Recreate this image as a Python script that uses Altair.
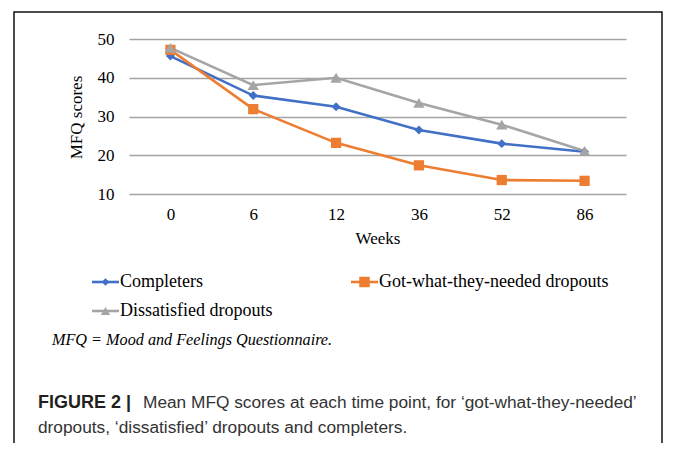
import altair as alt
import pandas as pd

weeks = ["0", "6", "12", "36", "52", "86"]
series_names = ["Completers", "Got-what-they-needed dropouts", "Dissatisfied dropouts"]
completers = [45.6, 35.4, 32.5, 26.5, 23.0, 20.9]
got_what = [47.2, 31.9, 23.2, 17.4, 13.6, 13.4]
dissatisfied = [47.7, 38.1, 40.0, 33.5, 27.9, 21.1]
colors = ["#4170C6", "#ED7D31", "#A5A5A5"]
shapes = ["diamond", "square", "triangle-up"]
y_ticks = [10, 20, 30, 40, 50]

rows = []
for name, vals in zip(series_names, [completers, got_what, dissatisfied]):
    for w, v in zip(weeks, vals):
        rows.append({"week": w, "score": v, "series": name})
df = pd.DataFrame(rows)

W, H = 497, 155
serif = "Liberation Serif"
sans = "Liberation Sans"

x_enc = alt.X("week:N", sort=weeks, scale=alt.Scale(type="point", padding=0.5),
              axis=alt.Axis(title="Weeks", labelAngle=0, labelFont=serif, labelFontSize=17,
                            labelColor="#000", labelPadding=12, domain=False, ticks=False,
                            grid=False, titleFont=serif, titleFontSize=17,
                            titleFontWeight="normal", titleColor="#000", titlePadding=8))
y_enc = alt.Y("score:Q", scale=alt.Scale(domain=[10, 50], nice=False, zero=False),
              axis=alt.Axis(title="MFQ scores", values=y_ticks, labelFont=serif, labelFontSize=17,
                            labelColor="#000", labelPadding=15, domain=False, ticks=False,
                            grid=True, gridColor="#a3a3a3", gridWidth=1.6,
                            titleFont=serif, titleFontSize=17, titleFontWeight="normal",
                            titleColor="#000", titleX=-44, titleY=78))
color_enc = alt.Color("series:N", sort=series_names,
                      scale=alt.Scale(domain=series_names, range=colors), legend=None)

base = alt.Chart(df)
lines = base.mark_line(strokeWidth=2.6).encode(x=x_enc, y=y_enc, color=color_enc,
                                                 order=alt.Order("series:N"))
shape_scale = alt.Scale(domain=series_names, range=shapes)
size_scale = alt.Scale(domain=series_names, range=[80, 130, 110])
points = base.mark_point(filled=True, opacity=1).encode(
    x=x_enc, y=y_enc, color=color_enc,
    shape=alt.Shape("series:N", scale=shape_scale, legend=None),
    size=alt.Size("series:N", scale=size_scale, legend=None))

one = pd.DataFrame({"a": [0]})

# figure border
border = alt.Chart(one).mark_rect(fill="transparent", stroke="#111", strokeWidth=1.5).encode(
    x=alt.value(-115), x2=alt.value(533), y=alt.value(-27), y2=alt.value(470))

# legend (drawn manually)
legend_layers = []
leg_pos = [(-37, 243), (222, 243), (-37, 272)]
leg_sizes = [60, 110, 90]
for name, col, shp, (lx, ly), sz in zip(series_names, colors, shapes, leg_pos, leg_sizes):
    legend_layers.append(alt.Chart(one).mark_rule(color=col, strokeWidth=2.6).encode(
        x=alt.value(lx), x2=alt.value(lx + 27), y=alt.value(ly)))
    legend_layers.append(alt.Chart(one).mark_point(filled=True, opacity=1, color=col, shape=shp,
                                                   size=sz).encode(
        x=alt.value(lx + 13.5), y=alt.value(ly)))
    legend_layers.append(alt.Chart(one).mark_text(align="left", baseline="middle", font=serif,
                                                  fontSize=18, color="#000").encode(
        x=alt.value(lx + 28), y=alt.value(ly), text=alt.value(name)))

note = alt.Chart(one).mark_text(align="left", baseline="middle", font=serif, fontSize=16.2,
                                fontStyle="italic", color="#000").encode(
    x=alt.value(-77), y=alt.value(301), text=alt.value("MFQ = Mood and Feelings Questionnaire."))

cap1a = alt.Chart(one).mark_text(align="left", baseline="middle", font=sans, fontSize=18,
                                 fontWeight="bold", color="#231f20").encode(
    x=alt.value(-91), y=alt.value(364), text=alt.value("FIGURE 2 |"))
cap1b = alt.Chart(one).mark_text(align="left", baseline="middle", font=sans, fontSize=17.3,
                                 color="#333").encode(
    x=alt.value(14), y=alt.value(364),
    text=alt.value("Mean MFQ scores at each time point, for \u2018got-what-they-needed\u2019"))
cap2 = alt.Chart(one).mark_text(align="left", baseline="middle", font=sans, fontSize=17.3,
                                color="#333").encode(
    x=alt.value(-91), y=alt.value(389),
    text=alt.value("dropouts, \u2018dissatisfied\u2019 dropouts and completers."))

chart = alt.layer(lines, points, border, *legend_layers, note, cap1a, cap1b, cap2).properties(
    width=W, height=H, autosize="none",
    padding={"left": 121, "top": 31, "right": 38, "bottom": 249},
    background="white",
).configure_view(strokeWidth=0)

chart.save("out.html", embed_options={"renderer": "svg", "actions": False})
